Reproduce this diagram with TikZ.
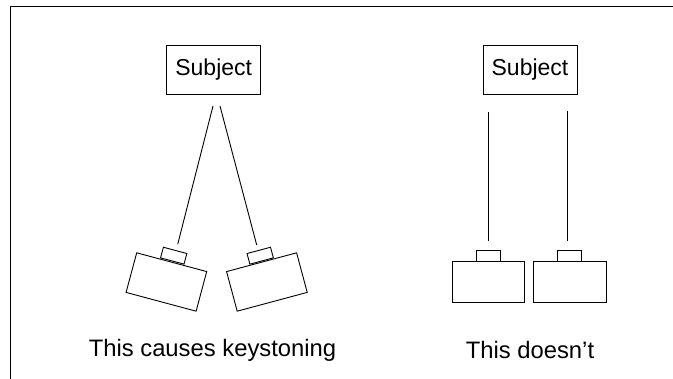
\documentclass[tikz,border=0pt]{standalone}
\usepackage{fontspec}
\setmainfont{Liberation Sans}
\begin{document}
\begin{tikzpicture}[x=1pt,y=-1pt,
  subj/.style={draw,line width=0.9pt,minimum width=94pt,minimum height=49pt,inner sep=0pt,font=\fontsize{23}{27}\selectfont},
  body/.style={draw,line width=0.9pt,minimum width=72.5pt,minimum height=41pt,inner sep=0pt},
  lens/.style={draw,line width=0.9pt,minimum width=24.3pt,minimum height=11pt,inner sep=0pt},
  ray/.style={line width=0.9pt},
  lbl/.style={font=\fontsize{23.8}{28}\selectfont}]
\useasboundingbox (0,0) rectangle (673,379);
\draw[line width=1.3pt] (10.5,379) -- (10.5,6.5) -- (673,6.5);
% left group
\node[subj] (s1) at (213.7,69.5) {Subject};
\node[body,rotate=-15] (b1) at (166.4,282) {};
\node[lens,rotate=-15] (l1) at (173.7,255.7) {};
\node[body,rotate=15] (b2) at (266.9,282) {};
\node[lens,rotate=15] (l2) at (260.2,255.7) {};
\coordinate (a1) at (213,106);
\coordinate (e1) at (177.7,244.3);
\coordinate (a2) at (220,106);
\coordinate (e2) at (256.7,245);
\draw[ray] (a1) -- (e1);
\draw[ray] (a2) -- (e2);
\node[lbl] (t1) at (212.5,350) {This causes keystoning};
% right group
\node[subj] (s2) at (530,69.7) {Subject};
\node[body] (b3) at (488.2,282.2) {};
\node[lens] (l3) at (488.2,255.7) {};
\node[body] (b4) at (569.7,282.2) {};
\node[lens] (l4) at (569.7,255.7) {};
\coordinate (a3) at (488,112);
\coordinate (e3) at (488,241.5);
\coordinate (a4) at (567,111);
\coordinate (e4) at (567,241);
\draw[ray] (a3) -- (e3);
\draw[ray] (a4) -- (e4);
\node[lbl] (t2) at (530,350) {This doesn’t};
\end{tikzpicture}
\end{document}
